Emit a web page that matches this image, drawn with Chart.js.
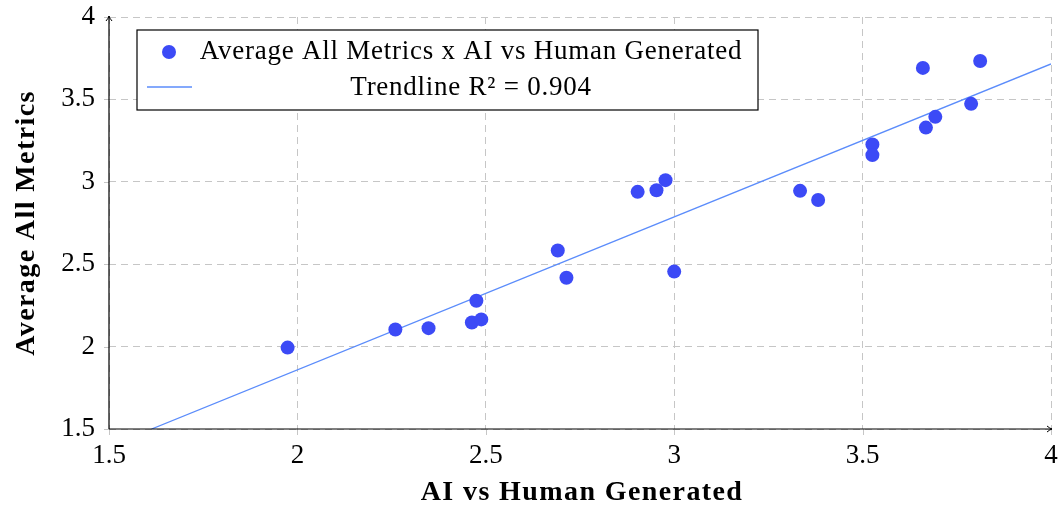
<!DOCTYPE html>
<html>
<head>
<meta charset="utf-8">
<script src="https://cdn.jsdelivr.net/npm/chart.js@4.4.1/dist/chart.umd.min.js"></script>
<style>
  html, body { margin: 0; padding: 0; background: #ffffff; }
  #wrap { width: 1063px; height: 509px; }
</style>
</head>
<body>
<div id="wrap"><canvas id="chart" width="1063" height="509"></canvas></div>
<script>
// Scatter data: AI vs Human Generated score (x) against Average All Metrics (y)
const aiVsHuman = [1.974, 2.260, 2.348, 2.463, 2.488, 2.475, 2.691, 2.714, 2.903, 2.953, 2.977,
                   3.000, 3.334, 3.382, 3.526, 3.526, 3.660, 3.668, 3.693, 3.788, 3.812];
const avgAllMetrics = [1.994, 2.104, 2.112, 2.146, 2.165, 2.278, 2.583, 2.418, 2.939, 2.949, 3.010,
                       2.455, 2.945, 2.890, 3.226, 3.162, 3.691, 3.329, 3.394, 3.473, 3.733];

// Linear trendline endpoints (within the plotted range)
const trendX = [1.613, 4.0];
const trendY = [1.5, 3.715];

// Axis tick values
const xTicks = [1.5, 2, 2.5, 3, 3.5, 4];
const yTicks = [1.5, 2, 2.5, 3, 3.5, 4];

const pointLabel = 'Average All Metrics x AI vs Human Generated';
const trendLabel = 'Trendline R\u00B2 = 0.904';
const xTitle = 'AI vs Human Generated';
const yTitle = 'Average All Metrics';

const SERIF = '"Liberation Serif", "Times New Roman", serif';
const pointColor = '#3c4af6';
const trendColor = '#5b8cfb';
const gridColor = '#c6c6c6';
const NONE = 'rgba(0,0,0,0)';

Chart.defaults.font.family = SERIF;
Chart.defaults.color = '#000000';

// Solid axis lines with arrow heads, short tick marks, axis titles and the boxed legend
const decorations = {
  id: 'decorations',
  afterDraw(chart) {
    const { ctx, chartArea: a, scales } = chart;
    ctx.save();
    // tick marks just outside the axes
    ctx.strokeStyle = gridColor;
    ctx.lineWidth = 1;
    ctx.beginPath();
    xTicks.forEach(v => {
      const px = Math.round(scales.x.getPixelForValue(v)) + 0.5;
      ctx.moveTo(px, a.bottom);
      ctx.lineTo(px, a.bottom + 6);
    });
    yTicks.forEach(v => {
      const py = Math.round(scales.y.getPixelForValue(v)) + 0.5;
      ctx.moveTo(a.left - 5, py);
      ctx.lineTo(a.left, py);
    });
    ctx.stroke();

    // axes
    ctx.strokeStyle = '#000000';
    ctx.lineWidth = 1.2;
    ctx.setLineDash([]);
    ctx.beginPath();
    ctx.moveTo(a.left, a.bottom);
    ctx.lineTo(a.left, a.top - 1);
    ctx.moveTo(a.left, a.bottom);
    ctx.lineTo(a.right + 1, a.bottom);
    ctx.stroke();
    // arrow heads
    ctx.lineWidth = 1;
    ctx.beginPath();
    ctx.moveTo(a.left - 3, a.top + 4);
    ctx.quadraticCurveTo(a.left - 0.5, a.top + 1, a.left, a.top - 1);
    ctx.quadraticCurveTo(a.left + 0.5, a.top + 1, a.left + 3, a.top + 4);
    ctx.moveTo(a.right - 4, a.bottom - 3);
    ctx.quadraticCurveTo(a.right - 1, a.bottom - 0.5, a.right + 1, a.bottom);
    ctx.quadraticCurveTo(a.right - 1, a.bottom + 0.5, a.right - 4, a.bottom + 3);
    ctx.stroke();

    // axis titles
    ctx.fillStyle = '#000000';
    ctx.font = 'bold 28px ' + SERIF;
    ctx.letterSpacing = '1.4px';
    ctx.textAlign = 'center';
    ctx.textBaseline = 'middle';
    ctx.fillText(xTitle, 582, 493);
    ctx.save();
    ctx.translate(27, 223);
    ctx.rotate(-Math.PI / 2);
    ctx.fillText(yTitle, 0, 0);
    ctx.restore();

    // legend
    const bx = 137, by = 30, bw = 621, bh = 80;
    ctx.fillStyle = '#ffffff';
    ctx.fillRect(bx, by, bw, bh);
    ctx.strokeStyle = '#000000';
    ctx.lineWidth = 1.2;
    ctx.strokeRect(bx, by, bw, bh);
    ctx.fillStyle = pointColor;
    ctx.beginPath();
    ctx.arc(169, 52, 7, 0, Math.PI * 2);
    ctx.fill();
    ctx.strokeStyle = trendColor;
    ctx.lineWidth = 1.3;
    ctx.beginPath();
    ctx.moveTo(147, 87);
    ctx.lineTo(192, 87);
    ctx.stroke();
    ctx.fillStyle = '#000000';
    ctx.font = '27px ' + SERIF;
    ctx.letterSpacing = '0.75px';
    ctx.textAlign = 'center';
    ctx.fillText(chart.data.datasets[0].label, 471, 52);
    ctx.fillText(chart.data.datasets[1].label, 471, 88);
    ctx.restore();
  }
};

new Chart(document.getElementById('chart'), {
  type: 'scatter',
  data: {
    datasets: [
      {
        label: pointLabel,
        data: aiVsHuman.map((x, i) => ({ x, y: avgAllMetrics[i] })),
        backgroundColor: pointColor,
        borderColor: pointColor,
        pointRadius: 7,
        pointHoverRadius: 7,
        borderWidth: 0,
        order: 1
      },
      {
        label: trendLabel,
        type: 'line',
        data: trendX.map((x, i) => ({ x, y: trendY[i] })),
        borderColor: trendColor,
        borderWidth: 1.3,
        pointRadius: 0,
        fill: false,
        tension: 0,
        order: 2
      }
    ]
  },
  options: {
    responsive: false,
    animation: false,
    devicePixelRatio: 1,
    layout: { padding: { left: 0, right: 12, top: 17, bottom: 0 } },
    plugins: { legend: { display: false }, tooltip: { enabled: false } },
    scales: {
      x: {
        type: 'linear',
        min: 1.5,
        max: 4,
        afterBuildTicks: s => { s.ticks = xTicks.map(v => ({ value: v })); },
        afterFit: s => { s.height = 80; },
        ticks: { font: { size: 27, lineHeight: 1 }, color: '#000000', padding: 2, maxRotation: 0,
                 callback: v => String(v) },
        grid: { color: gridColor, lineWidth: 1, tickLength: 11, tickColor: NONE },
        border: { display: false, dash: [7, 5] }
      },
      y: {
        type: 'linear',
        min: 1.5,
        max: 4,
        afterBuildTicks: s => { s.ticks = yTicks.map(v => ({ value: v })); },
        afterFit: s => { s.width = 109; },
        ticks: { font: { size: 27, lineHeight: 0.6 }, color: '#000000', padding: 8,
                 callback: v => String(v) },
        grid: { color: gridColor, lineWidth: 1, tickLength: 6, tickColor: NONE },
        border: { display: false, dash: [7, 5] }
      }
    }
  },
  plugins: [decorations]
});
</script>
</body>
</html>
